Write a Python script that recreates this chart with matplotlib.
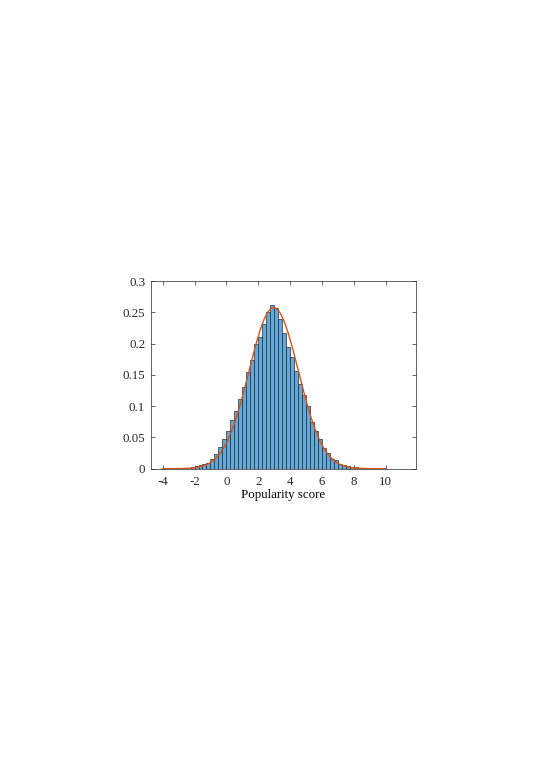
import numpy as np
import matplotlib
matplotlib.use("Agg")
import matplotlib.pyplot as plt

# Histogram bins (left edges) and normalized heights (pdf)
bin_width = 0.25
bin_left = np.arange(-3.5, 9.75, 0.25)
heights = [0.0003, 0.0004, 0.0007, 0.0011, 0.0018, 0.0026, 0.0036, 0.0052,
           0.0068, 0.0098, 0.015, 0.023, 0.034, 0.047, 0.060, 0.078,
           0.092, 0.111, 0.131, 0.154, 0.173, 0.199, 0.211, 0.231,
           0.250, 0.261, 0.2565, 0.239, 0.2165, 0.194, 0.178, 0.156,
           0.1355, 0.118, 0.100, 0.075, 0.060, 0.048, 0.0325, 0.0245,
           0.0155, 0.0135, 0.0075, 0.0053, 0.0037, 0.0027, 0.0020, 0.0013,
           0.0009, 0.0006, 0.0004, 0.0003, 0.0002]

# Fitted normal curve parameters (histfit)
fit_mu = 2.97
fit_sigma = 1.55
fit_range = (-4, 10)

xticks = [-4, -2, 0, 2, 4, 6, 8, 10]
yticks = [0, 0.05, 0.1, 0.15, 0.2, 0.25, 0.3]
ytick_labels = ["0", "0.05", "0.1", "0.15", "0.2", "0.25", "0.3"]
xlabel = "Popularity score"

plt.rcParams['font.family'] = ['Liberation Serif', 'DejaVu Serif']
plt.rcParams['font.size'] = 9.3

fig = plt.figure(figsize=(5.39, 7.63), dpi=100)
ax = fig.add_axes([0.2796, 0.3857, 0.4916, 0.2460])

n = min(len(bin_left), len(heights))
ax.bar(bin_left[:n], heights[:n], width=bin_width, align='edge',
       color='#62A8D8', edgecolor='#2a2a2a', linewidth=0.5, zorder=2)

xs = np.linspace(fit_range[0], fit_range[1], 400)
ys = np.exp(-0.5 * ((xs - fit_mu) / fit_sigma) ** 2) / (fit_sigma * np.sqrt(2 * np.pi))
ax.plot(xs, ys, color='#D95319', linewidth=1.0, zorder=3)

ax.set_xlim(-4.75, 11.88)
ax.set_ylim(0, 0.3)
ax.set_xticks(xticks)
ax.set_xticklabels([str(t) for t in xticks])
ax.set_yticks(yticks)
ax.set_yticklabels(ytick_labels)
ax.set_xlabel(xlabel, labelpad=1)

for s in ax.spines.values():
    s.set_color('#262626')
    s.set_linewidth(0.5)
ax.tick_params(direction='in', length=3, width=0.5, colors='#262626',
               top=True, right=True, labelcolor='#262626')
ax.tick_params(axis='x', pad=5)
ax.tick_params(axis='y', pad=4)

fig.savefig("out.png", dpi=100)
